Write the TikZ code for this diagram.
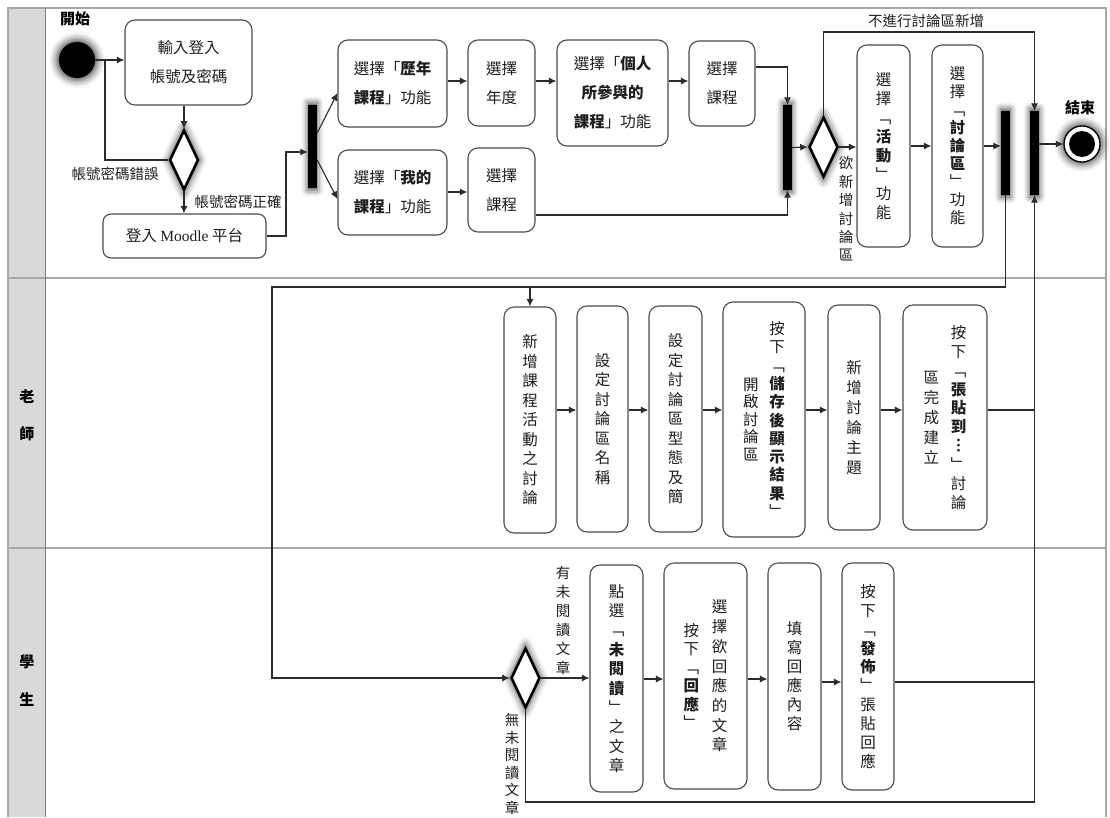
\documentclass[tikz,border=0pt]{standalone}
\usepackage{fontspec}
\setmainfont{Noto Sans CJK TC}
\newfontfamily\lat{Liberation Serif}
\usetikzlibrary{arrows.meta,shapes.geometric,shadows.blur,calc}
\definecolor{boxc}{HTML}{4A4A4A}
\definecolor{linec}{HTML}{2B2B2B}
\definecolor{txt}{HTML}{1E1E1E}
\definecolor{lanec}{HTML}{A8A8A8}
\definecolor{headfill}{HTML}{D9D9D9}
\makeatletter
\def\vt@end{\vt@end}
\def\vt@loop#1{%
  \ifx#1\vt@end\let\vt@next\relax
  \else\let\vt@next\vt@loop
    \ifx#1*\bfseries\else\ifx#1+\mdseries\else\hbox to 1.1em{\hss#1\hss}\fi\fi
  \fi\vt@next}
\newcommand\vtext[2][19pt]{$\vcenter{\baselineskip=#1\lineskiplimit=-30pt\lineskip=0pt\vt@loop#2\vt@end}$}
\makeatother
\tikzset{
  box/.style={draw=boxc, line width=1.1pt, rounded corners=10pt, fill=white, inner sep=0pt,
    font=\fontsize{15.5}{29}\selectfont, align=center, text=txt},
  arr/.style={draw=linec, line width=1.1pt, -{Latex[length=7.5pt,width=7pt]}},
  ln/.style={draw=linec, line width=1.1pt},
  glow/.style={blur shadow={shadow xshift=0pt, shadow yshift=0pt, shadow blur radius=6pt, shadow opacity=70, shadow scale=1.15}},
  barglow/.style={blur shadow={shadow xshift=0pt, shadow yshift=0pt, shadow blur radius=6pt, shadow opacity=75, shadow scale=1.05}},
  bar/.style={rectangle, fill=black, draw=none, minimum width=9pt, inner sep=0pt, barglow},
  dec/.style={diamond, draw=black, line width=2.6pt, fill=white, minimum width=29pt, minimum height=60pt, inner sep=0pt, glow},
  lbl/.style={font=\fontsize{14.5}{18}\selectfont, text=txt, inner sep=0pt},
  lanelbl/.style={font=\fontsize{15}{18}\selectfont\bfseries, text=black, inner sep=0pt}
}
\begin{document}
\begin{tikzpicture}[x=1pt, y=-1pt]
\useasboundingbox (0,0) rectangle (1110,817);
% lanes
\fill[headfill] (8,8) rectangle (45,817);
\draw[lanec, line width=2pt] (8,817) -- (8,8) -- (1106,8) -- (1106,817);
\draw[lanec, line width=2pt] (8,278) -- (1106,278);
\draw[lanec, line width=2pt] (8,548) -- (1106,548);
\draw[gray, line width=1pt] (45,8) -- (45,817);
\node[lanelbl] (laneT) at (27,415) {\vtext[37pt]{老師}};
\node[lanelbl] (laneS) at (27,681) {\vtext[38pt]{學生}};

% helper coordinates
\coordinate (rowA) at (0,81);
\coordinate (rowB) at (0,192);
\coordinate (r67) at (0,67);
\coordinate (r215) at (0,215);
\coordinate (topy) at (0,32);
\coordinate (bus) at (0,287);
\coordinate (busL) at (272,287);
\coordinate (rowT) at (0,410);
\coordinate (rowS) at (0,679);
\coordinate (rowS2) at (0,682);
\coordinate (boty) at (0,802);
\coordinate (xerr) at (105,60);
\coordinate (k1) at (286,152);

% start / end
\node[font=\fontsize{15}{18}\selectfont\bfseries, inner sep=0pt] (lstart) at (75,19) {開始};
\node[circle, fill=black, minimum size=36pt, inner sep=0pt, glow] (start) at (77,60) {};
\node[font=\fontsize{15}{18}\selectfont\bfseries, inner sep=0pt] (lend) at (1080,108) {結束};
\node[circle, draw=black, line width=1.3pt, fill=white, minimum size=36pt, inner sep=0pt, glow] (endc) at (1082,144) {};
\fill[black] (endc.center) circle (13);

% top lane boxes
\node[box, minimum width=127pt, minimum height=85pt] (b1) at (188.5,62.5) {輸入登入\\帳號及密碼};
\node[dec] (d1) at (184,160) {};
\node[box, rounded corners=8pt, minimum width=163pt, minimum height=44pt] (login) at (184.5,236) {登入 {\lat Moodle} 平台};
\node[bar, minimum height=83pt] (fork1) at (312.5,146.5) {};
\node[box, minimum width=109pt, minimum height=87pt] (hist) at (392.5,83.5) {選擇「\textbf{歷年}\\\textbf{課程}」功能};
\node[box, minimum width=67pt, minimum height=86pt] (year) at (501.5,83) {選擇\\年度};
\node[box, minimum width=109pt, minimum height=85pt] (mine) at (392.5,192.5) {選擇「\textbf{我的}\\\textbf{課程}」功能};
\node[box, minimum width=67pt, minimum height=84pt] (sel2) at (501.5,190) {選擇\\課程};
\node[box, minimum width=111pt, minimum height=106pt] (pers) at (612.5,93) {選擇「\textbf{個人}\\\textbf{所參與的}\\\textbf{課程}」功能};
\node[box, minimum width=66pt, minimum height=85pt] (sel1) at (722,83.5) {選擇\\課程};
\node[bar, minimum height=85pt] (join1) at (787.5,147.5) {};
\node[dec] (d2) at (823.5,147) {};
\node[box, minimum width=53pt, minimum height=202pt] (act) at (883.5,146) {\vtext{選擇﹁*活動+﹂功能}};
\node[box, minimum width=51pt, minimum height=202pt] (forum) at (957.5,146) {\vtext[18pt]{選擇﹁*討論區+﹂功能}};
\node[bar, minimum height=84pt] (bar3) at (1005.5,153) {};
\node[bar, minimum height=84pt] (bar4) at (1034.5,153) {};

% teacher lane
\node[box, minimum width=52pt, minimum height=226pt] (t1) at (530,420) {\vtext[19.5pt]{新增課程活動之討論}};
\node[box, minimum width=51pt, minimum height=226pt] (t2) at (602.5,419) {\vtext[19.5pt]{設定討論區名稱}};
\node[box, minimum width=53pt, minimum height=226pt] (t3) at (675.5,419) {\vtext[19.5pt]{設定討論區型態及簡}};
\node[box, minimum width=82pt, minimum height=235pt] (t4) at (764,419.5) {\vtext[17.5pt]{開啟討論區}\hspace{9pt}\vtext[18.3pt]{按下﹁*儲存後顯示結果+﹂}};
\node[box, minimum width=52pt, minimum height=225pt] (t5) at (854,417.5) {\vtext[20pt]{新增討論主題}};
\node[box, minimum width=84pt, minimum height=225pt] (t6) at (945,417.5) {\vtext[20pt]{區完成建立}\hspace{10pt}\vtext[18.9pt]{按下﹁*張貼到︙+﹂討論}};

% student lane
\node[dec] (d3) at (525.5,678) {};
\node[box, minimum width=53pt, minimum height=227pt] (s1) at (616.5,678.5) {\vtext[19.4pt]{點選﹁*未閱讀+﹂之文章}};
\node[box, minimum width=83pt, minimum height=226pt] (s2) at (705.5,676) {\vtext[18.4pt]{按下﹁*回應+﹂}\hspace{11pt}\vtext[19.7pt]{選擇欲回應的文章}};
\node[box, minimum width=53pt, minimum height=227pt] (s3) at (794.5,676.5) {\vtext{填寫回應內容}};
\node[box, minimum width=52pt, minimum height=227pt] (s4) at (868,676.5) {\vtext[18.9pt]{按下﹁*發佈+﹂張貼回應}};

% labels
\node[lbl] (lerr) at (115,174) {帳號密碼錯誤};
\node[lbl] (lok) at (238,202) {帳號密碼正確};
\node[lbl] (lno) at (926,21) {不進行討論區新增};
\node[lbl] (lyes) at (846,209) {\vtext[18.4pt]{欲新增討論區}};
\node[lbl] (lunr) at (563,620) {\vtext{有未閱讀文章}};
\node[lbl] (lnone) at (512,764) {\vtext[17.5pt]{無未閱讀文章}};

% connectors top lane
\draw[arr] (start.east) -- (b1.west |- start.east);
\draw[arr] (b1.south -| d1.north) -- (d1.north);
\draw[ln] (d1.west) -| (xerr);
\draw[arr] (d1.south) -- (login.north -| d1.south);
\draw[arr] (login.east) -| (k1) -- (fork1.west |- k1);
\draw[arr] ($(fork1.east)+(0,-13.5)$) -- ($(hist.west)+(0,9.5)$);
\draw[arr] ($(fork1.east)+(0,13.5)$) -- ($(mine.west)+(0,6.5)$);
\draw[arr] (hist.east |- rowA) -- (year.west |- rowA);
\draw[arr] (year.east |- rowA) -- (pers.west |- rowA);
\draw[arr] (pers.east |- rowA) -- (sel1.west |- rowA);
\draw[arr] (mine.east |- rowB) -- (sel2.west |- rowB);
\draw[arr] (sel1.east |- r67) -| (join1.north);
\draw[arr] (sel2.east |- r215) -| (join1.south);
\draw[arr] (join1.east) -- (d2.west);
\draw[arr] (d2.north) -- (d2.north |- topy) -| (bar4.north);
\draw[arr] (d2.east) -- (act.west |- d2.east);
\draw[arr] (act.east) -- (forum.west);
\draw[arr] (forum.east) -- (bar3.west |- forum.east);
\draw[arr] (bar4.east |- endc) -- (endc.west);

% to teacher / student lanes
\draw[arr] (bar3.south) |- (busL) |- (d3.west);
\draw[arr] (t1.north |- bus) -- (t1.north);
\draw[arr] (t1.east |- rowT) -- (t2.west |- rowT);
\draw[arr] (t2.east |- rowT) -- (t3.west |- rowT);
\draw[arr] (t3.east |- rowT) -- (t4.west |- rowT);
\draw[arr] (t4.east |- rowT) -- (t5.west |- rowT);
\draw[arr] (t5.east |- rowT) -- (t6.west |- rowT);
\draw[ln] (t6.east |- rowT) -- (bar4.south |- rowT);

\draw[arr] (d3.east) -- (s1.west |- d3.east);
\draw[arr] (s1.east |- rowS) -- (s2.west |- rowS);
\draw[arr] (s2.east |- rowS) -- (s3.west |- rowS);
\draw[arr] (s3.east |- rowS2) -- (s4.west |- rowS2);
\draw[ln] (s4.east |- rowS2) -- (bar4.south |- rowS2);
\draw[arr] (d3.south) |- (bar4.south |- boty) -- (bar4.south);
\end{tikzpicture}
\end{document}
